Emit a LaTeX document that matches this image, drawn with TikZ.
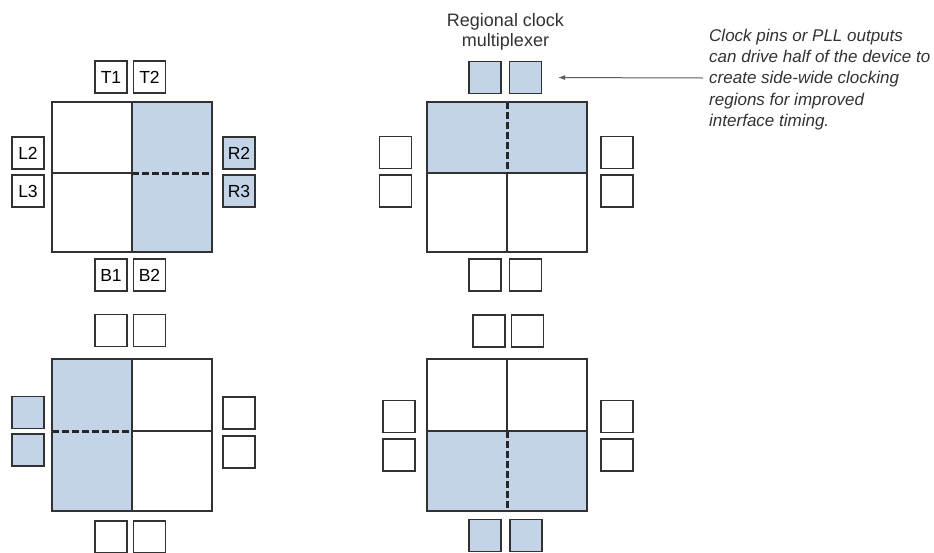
\documentclass[tikz,border=0pt]{standalone}
\usepackage{fontspec}
\setmainfont{Liberation Sans}
\usetikzlibrary{arrows.meta}
\definecolor{regionblue}{RGB}{195,212,233}
\definecolor{edge}{RGB}{50,50,50}
\definecolor{pointer}{RGB}{90,90,90}
\tikzset{
  iobox/.style={draw=edge, line width=1.2pt, minimum width=32pt, minimum height=32pt,
    inner sep=0pt, font=\fontsize{17.5}{20}\selectfont},
  ioon/.style={iobox, fill=regionblue},
  quad/.style={draw=edge, line width=1.3pt},
  split/.style={draw=edge, line width=1.1pt},
  dsplit/.style={draw=black!85, line width=3pt, dash pattern=on 6.5pt off 3.5pt},
  title/.style={align=center, inner sep=0pt, font=\fontsize{18}{20}\selectfont, text=edge},
  note/.style={align=left, inner sep=0pt, font=\fontsize{17}{21.4}\selectfont\itshape, text=edge},
  pointer/.style={draw=pointer, line width=1pt, -{Latex[length=7pt,width=5pt]}},
}
\begin{document}
\begin{tikzpicture}[x=1pt,y=-1pt]
\useasboundingbox (0,0) rectangle (934,552);
\clip (0,0) rectangle (934,552);
% ---------- diagram A (top left): right half shaded
\fill[regionblue] (132,102) rectangle (212,252);
\draw[split] (52,173) -- (132,173);
\draw[split] (132,102) -- (132,252);
\draw[dsplit] (132,173) -- (212,173);
\draw[quad] (52,102) rectangle (212,252);
\node[iobox] (aT1) at (111,77) {T1};
\node[iobox] (aT2) at (149.5,77) {T2};
\node[iobox] (aL2) at (28,153) {L2};
\node[iobox] (aL3) at (28,191) {L3};
\node[ioon]  (aR2) at (239,153) {R2};
\node[ioon]  (aR3) at (239,191) {R3};
\node[iobox] (aB1) at (111,275) {B1};
\node[iobox] (aB2) at (149.5,275) {B2};
% ---------- diagram B (top right): top half shaded
\fill[regionblue] (427,102) rectangle (587,173);
\draw[split] (427,173) -- (587,173);
\draw[split] (507,173) -- (507,252);
\draw[dsplit] (507,102) -- (507,173);
\draw[quad] (427,102) rectangle (587,252);
\node[ioon]  (bT1) at (485,77.5) {};
\node[ioon]  (bT2) at (525.5,77.5) {};
\node[iobox] (bL2) at (395.5,152.5) {};
\node[iobox] (bL3) at (395.5,191) {};
\node[iobox] (bR2) at (617,152.5) {};
\node[iobox] (bR3) at (617,191) {};
\node[iobox] (bB1) at (485,275) {};
\node[iobox] (bB2) at (525.5,275) {};
% ---------- diagram C (bottom left): left half shaded
\fill[regionblue] (52,359) rectangle (132,511);
\draw[split] (132,431) -- (212,431);
\draw[split] (132,359) -- (132,511);
\draw[dsplit] (52,431) -- (132,431);
\draw[quad] (52,359) rectangle (212,511);
\node[iobox] (cT1) at (111,330.5) {};
\node[iobox] (cT2) at (149.5,330.5) {};
\node[ioon]  (cL2) at (28,412.5) {};
\node[ioon]  (cL3) at (28,450) {};
\node[iobox] (cR2) at (239,413) {};
\node[iobox] (cR3) at (239,452) {};
\node[iobox] (cB1) at (111,537) {};
\node[iobox] (cB2) at (149.5,537) {};
% ---------- diagram D (bottom right): bottom half shaded
\fill[regionblue] (427,431) rectangle (587,511);
\draw[split] (427,431) -- (587,431);
\draw[split] (507,359) -- (507,431);
\draw[dsplit] (507,431) -- (507,511);
\draw[quad] (427,359) rectangle (587,511);
\node[iobox] (dT1) at (489,331) {};
\node[iobox] (dT2) at (527.5,331) {};
\node[iobox] (dL2) at (399,416.5) {};
\node[iobox] (dL3) at (399,455) {};
\node[iobox] (dR2) at (617,416.5) {};
\node[iobox] (dR3) at (617,455) {};
\node[ioon]  (dB1) at (485,535.5) {};
\node[ioon]  (dB2) at (526,535.5) {};
% ---------- labels
\node[title, anchor=base] (title) at (505.5,46) {Regional clock\\multiplexer};
\node[note, anchor=base west] (note) at (709,126.7) {Clock pins or PLL outputs\\can drive half of the device to\\create side-wide clocking\\regions for improved\\interface timing.};
\coordinate (arrowstart) at (703,78);
\draw[pointer, shorten >=16pt] (arrowstart) -- (bT2.east);
\end{tikzpicture}
\end{document}
